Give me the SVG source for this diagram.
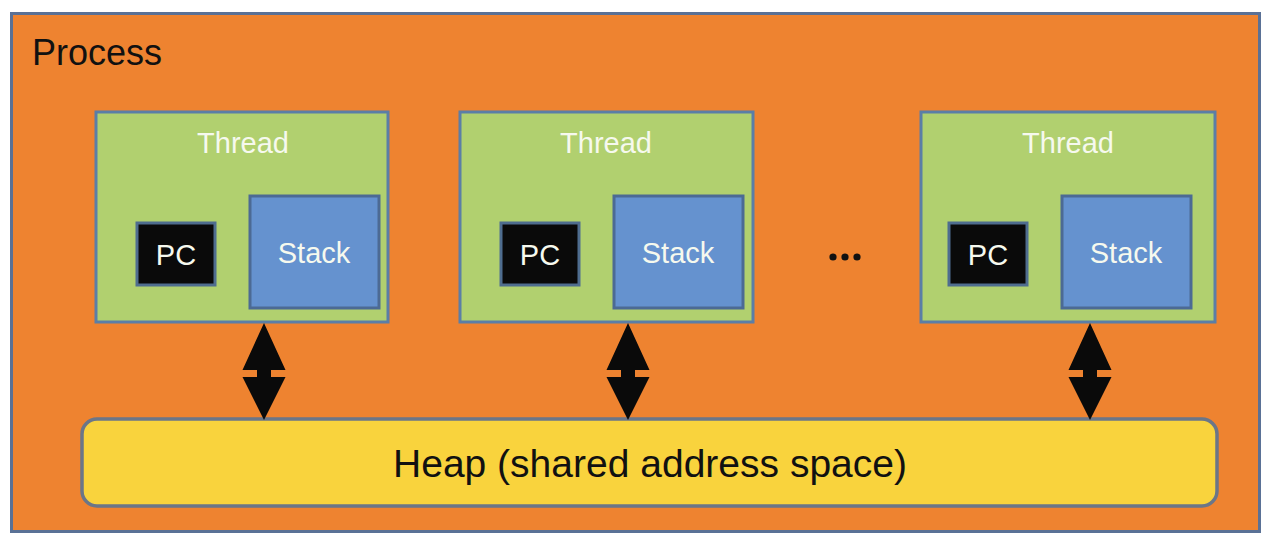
<svg xmlns="http://www.w3.org/2000/svg" width="1278" height="546" viewBox="0 0 1278 546">
<defs>
<style>
.process{fill:#ee8330;stroke:#5a7196;stroke-width:3}
.thread{fill:#b1d06f;stroke:#5b7ea6;stroke-width:3}
.pc{fill:#0a0a0a;stroke:#4f6d8f;stroke-width:3}
.stack{fill:#6592cf;stroke:#4c6a94;stroke-width:3}
.heap{fill:#f9d33d;stroke:#6b7688;stroke-width:3.5}
.arrow{fill:#0a0a0a}
text{font-family:"Liberation Sans",Arial,sans-serif}
.wt{fill:#f6f9ee;font-size:29px;text-anchor:middle}
.bt{fill:#111;text-anchor:middle}
</style>
</defs>
<rect width="1278" height="546" fill="#ffffff"/>
<g id="process">
<rect class="process" x="11.5" y="13.5" width="1248" height="518"/>
<text x="32" y="65" style="font-size:36px;fill:#111">Process</text>
</g>
<g id="thread1">
<rect class="thread" x="96" y="112" width="292" height="210"/>
<text class="wt" x="243" y="153">Thread</text>
<g id="pc1"><rect class="pc" x="137" y="223" width="78" height="62"/><text class="wt" x="176" y="265">PC</text></g>
<g id="stack1"><rect class="stack" x="250" y="196" width="129" height="112"/><text class="wt" x="314" y="263">Stack</text></g>
</g>
<g id="thread2">
<rect class="thread" x="460" y="112" width="293" height="210"/>
<text class="wt" x="606" y="153">Thread</text>
<g id="pc2"><rect class="pc" x="501" y="223" width="78" height="62"/><text class="wt" x="540" y="265">PC</text></g>
<g id="stack2"><rect class="stack" x="614" y="196" width="129" height="112"/><text class="wt" x="678" y="263">Stack</text></g>
</g>
<g id="ellipsis">
<circle cx="833" cy="257" r="3.6" fill="#111"/>
<circle cx="845" cy="257" r="3.6" fill="#111"/>
<circle cx="857" cy="257" r="3.6" fill="#111"/>
</g>
<g id="thread3">
<rect class="thread" x="921" y="112" width="294" height="210"/>
<text class="wt" x="1068" y="153">Thread</text>
<g id="pc3"><rect class="pc" x="949" y="223" width="78" height="62"/><text class="wt" x="988" y="265">PC</text></g>
<g id="stack3"><rect class="stack" x="1062" y="196" width="129" height="112"/><text class="wt" x="1126" y="263">Stack</text></g>
</g>
<g id="heap">
<rect class="heap" x="82" y="419" width="1135" height="87" rx="15" ry="15"/>
<text class="bt" x="650" y="477" style="font-size:38px" textLength="514" lengthAdjust="spacingAndGlyphs">Heap (shared address space)</text>
</g>
<g id="connectors">
<path class="arrow" d="M264,323 L285.5,370 L271,370 L271,377 L285.5,377 L264,420 L242.5,377 L257,377 L257,370 L242.5,370 Z"/>
<path class="arrow" d="M628,323 L649.5,370 L635,370 L635,377 L649.5,377 L628,420 L606.5,377 L621,377 L621,370 L606.5,370 Z"/>
<path class="arrow" d="M1090,323 L1111.5,370 L1097,370 L1097,377 L1111.5,377 L1090,420 L1068.5,377 L1083,377 L1083,370 L1068.5,370 Z"/>
</g>
</svg>
